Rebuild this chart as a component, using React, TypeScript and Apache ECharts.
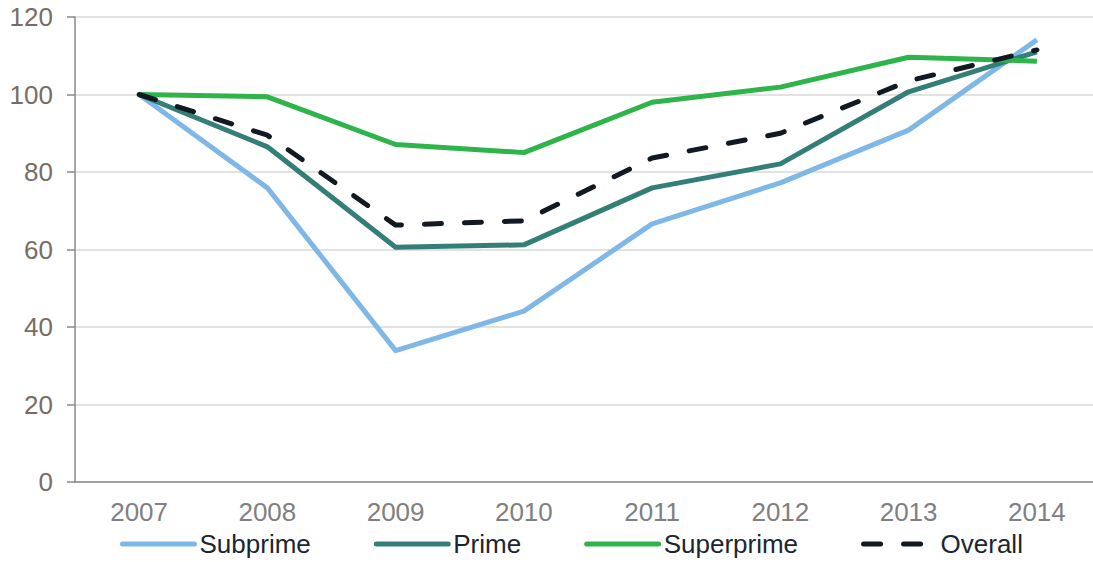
import React, { useEffect, useRef } from "react";
import * as echarts from "echarts";

const years = ["2007", "2008", "2009", "2010", "2011", "2012", "2013", "2014"];
const subprime = [100, 75.9, 33.9, 44.1, 66.6, 77.2, 90.8, 114.1];
const prime = [100, 86.5, 60.6, 61.2, 75.9, 82.1, 100.7, 111];
const superprime = [100, 99.4, 87.1, 85, 98, 101.9, 109.6, 108.6];
const overall = [100, 89.5, 66.3, 67.4, 83.6, 90, 103.5, 111.5];
const yTicks = [0, 20, 40, 60, 80, 100, 120];

export default function App() {
  const ref = useRef<HTMLDivElement>(null);
  useEffect(() => {
    if (!ref.current) return;
    const chart = echarts.init(ref.current, null, { renderer: "svg" });
    const font = "'Liberation Sans', Arial, sans-serif";
    const mk = (name: string, data: number[], color: string, dashed = false) => ({
      name,
      type: "line",
      data,
      symbol: "none",
      lineStyle: {
        color,
        width: 5,
        type: dashed ? [17, 23] : "solid",
        cap: dashed ? "round" : "butt",
        join: "round",
      },
      itemStyle: { color },
    });
    chart.setOption({
      animation: false,
      textStyle: { fontFamily: font },
      grid: { left: 75, top: 17, width: 1026, height: 465, containLabel: false },
      legend: {
        left: 120,
        top: 531,
        padding: 0,
        itemWidth: 72,
        itemHeight: 14,
        itemGap: 63,
        itemStyle: { opacity: 0 },
        lineStyle: { width: 5, cap: "round" },
        textStyle: { fontSize: 26, color: "#1b2631", fontFamily: font, padding: [0, 0, 0, 0] },
        data: ["Subprime", "Prime", "Superprime", "Overall"],
      },
      xAxis: {
        type: "category",
        data: years,
        boundaryGap: true,
        axisLine: { lineStyle: { color: "#8a8a8a", width: 1.5 } },
        axisTick: { interval: 3, length: 8, lineStyle: { color: "#8a8a8a", width: 1.5 } },
        axisLabel: { fontSize: 26, color: "#808080", margin: 17, interval: 0 },
      },
      yAxis: {
        type: "value",
        min: 0,
        max: 120,
        interval: 20,
        axisLine: { show: true, lineStyle: { color: "#8a8a8a", width: 1.5 } },
        axisTick: { show: true, length: 8, lineStyle: { color: "#8a8a8a", width: 1.5 } },
        axisLabel: {
          fontSize: 26,
          color: "#786d64",
          margin: 22,
          formatter: (v: number) => (yTicks.includes(v) ? String(v) : ""),
        },
        splitLine: { lineStyle: { color: "#d9d9d9", width: 1.5 } },
      },
      series: [
        mk("Subprime", subprime, "#7fb7e6"),
        mk("Prime", prime, "#337f78"),
        mk("Superprime", superprime, "#2eb44b"),
        mk("Overall", overall, "#111a22", true),
      ],
    });
    return () => chart.dispose();
  }, []);
  return (
    <div
      ref={ref}
      style={{ position: "fixed", left: 0, top: 0, width: 1110, height: 562, background: "#fff" }}
    />
  );
}
